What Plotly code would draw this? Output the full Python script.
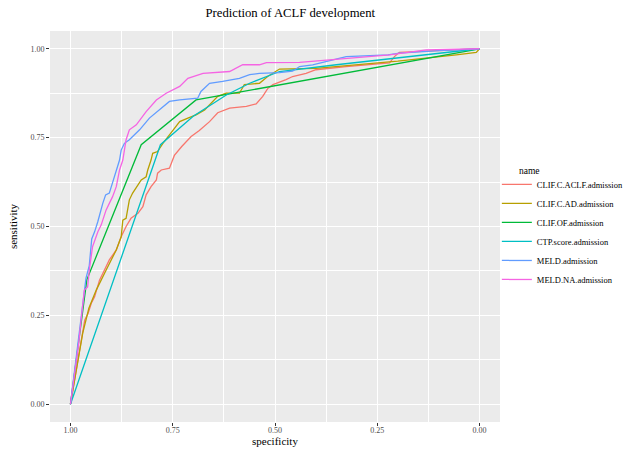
import plotly.graph_objects as go

# ROC curves (specificity, sensitivity) for each admission score
aclf_spec = [1, .99, .972, .965, .957, .949, .941, .929, .921, .905, .888, .876, .864, .852, .835, .823, .815,
             .803, .79, .787, .778, .758, .746, .728, .705, .685, .66, .64, .611, .57, .546, .53, .518, .505,
             .473, .457, .424, .4, .326, .22, .208, .196, .1, 0]
aclf_sens = [0, .068, .19, .237, .255, .284, .302, .349, .368, .406, .434, .471, .5, .523, .537, .556, .589,
             .612, .631, .65, .659, .664, .70, .725, .753, .77, .795, .82, .833, .838, .845, .866, .888, .899,
             .913, .922, .931, .941, .95, .96, .978, .99, .995, 1]

ad_spec = [1, .985, .97, .955, .937, .913, .888, .876, .872, .864, .856, .848, .835, .827, .815, .811, .803,
           .799, .787, .774, .75, .733, .713, .693, .672, .656, .64, .619, .587, .575, .538, .518, .489, .4,
           .3, .2, .057, .008, 0]
ad_sens = [0, .1, .2, .27, .321, .377, .434, .471, .518, .523, .575, .594, .617, .631, .64, .659, .687,
           .706, .711, .734, .77, .795, .805, .814, .828, .847, .866, .875, .875, .899, .903, .922, .943, .945,
           .955, .965, .983, .99, 1]

of_spec = [1, .96, .827, .693, 0]
of_sens = [0, .35, .73, .856, 1]

ctp_spec = [1, .78, .7, .619, .562, .489, .35, .2, 0]
ctp_sens = [0, .73, .81, .87, .903, .936, .955, .975, 1]

meld_spec = [1, .994, .982, .974, .962, .954, .948, .941, .933, .921, .914, .905, .897, .888, .88, .876, .868,
             .856, .831, .807, .782, .758, .733, .689, .681, .66, .628, .587, .562, .538, .489, .457, .44,
             .408, .326, .224, .196, .1, 0]
meld_sens = [0, .058, .161, .255, .355, .39, .465, .485, .514, .565, .589, .594, .626, .659, .687, .715, .734,
             .744, .772, .805, .828, .852, .856, .861, .88, .903, .908, .917, .927, .931, .933, .937, .95,
             .955, .978, .983, .988, .995, 1]

meldna_spec = [1, .99, .98, .974, .966, .958, .954, .946, .933, .925, .913, .905, .897, .888, .88, .872, .864,
               .856, .839, .815, .79, .766, .733, .713, .676, .611, .579, .538, .521, .44, .367, .326, .22,
               .13, 0]
meldna_sens = [0, .08, .17, .237, .321, .33, .377, .443, .485, .504, .546, .565, .584, .612, .659, .687, .744,
               .772, .786, .823, .856, .875, .894, .917, .931, .936, .955, .955, .961, .962, .969, .974, .983,
               .997, 1]

names = ["CLIF.C.ACLF.admission", "CLIF.C.AD.admission", "CLIF.OF.admission",
         "CTP.score.admission", "MELD.admission", "MELD.NA.admission"]
specs = [aclf_spec, ad_spec, of_spec, ctp_spec, meld_spec, meldna_spec]
senss = [aclf_sens, ad_sens, of_sens, ctp_sens, meld_sens, meldna_sens]
colors = ["#F8766D", "#B79F00", "#00BA38", "#00BFC4", "#619CFF", "#F564E3"]

SERIF = "Liberation Serif"

fig = go.Figure()
for name, sp, se, col in zip(names, specs, senss, colors):
    fig.add_trace(go.Scatter(x=sp, y=se, mode="lines", name=name,
                             line=dict(color=col, width=1.3)))

axis_common = dict(
    showgrid=True, gridcolor="white", gridwidth=1.1,
    minor=dict(showgrid=True, gridcolor="white", gridwidth=0.5, dtick=0.125),
    zeroline=False, showline=False,
    ticks="outside", ticklen=3, tickwidth=1, tickcolor="#333333",
    tickfont=dict(family=SERIF, size=8, color="#4D4D4D"),
    tickformat=".2f",
)

fig.update_layout(
    width=624, height=449,
    margin=dict(l=50, r=124, t=31, b=27, autoexpand=False),
    paper_bgcolor="white", plot_bgcolor="#EBEBEB",
    title=dict(text="Prediction of ACLF development", x=0.534, xref="paper", xanchor="center",
               y=0.972, yref="container", yanchor="middle",
               font=dict(family=SERIF, size=12.7, color="black")),
    xaxis=dict(range=[1.05, -0.05], tickvals=[1, 0.75, 0.5, 0.25, 0], ticklabelstandoff=-3,
               title=dict(text="specificity", standoff=1,
                          font=dict(family=SERIF, size=11, color="black")),
               **axis_common),
    yaxis=dict(range=[-0.05, 1.05], tickvals=[0, 0.25, 0.5, 0.75, 1],
               title=dict(text="sensitivity", standoff=10,
                          font=dict(family=SERIF, size=11, color="black")),
               **axis_common),
    legend=dict(font=dict(family=SERIF, size=8.5, color="black"),
                x=0.993, xanchor="left", y=0.486, yanchor="middle",
                bgcolor="rgba(0,0,0,0)", tracegroupgap=0, itemwidth=30),
    showlegend=True,
    annotations=[dict(text="name", xref="paper", yref="paper", x=1.037, y=0.641,
                      xanchor="left", yanchor="middle", showarrow=False,
                      font=dict(family=SERIF, size=9.5, color="black"))],
)

fig.write_html("out.html")
